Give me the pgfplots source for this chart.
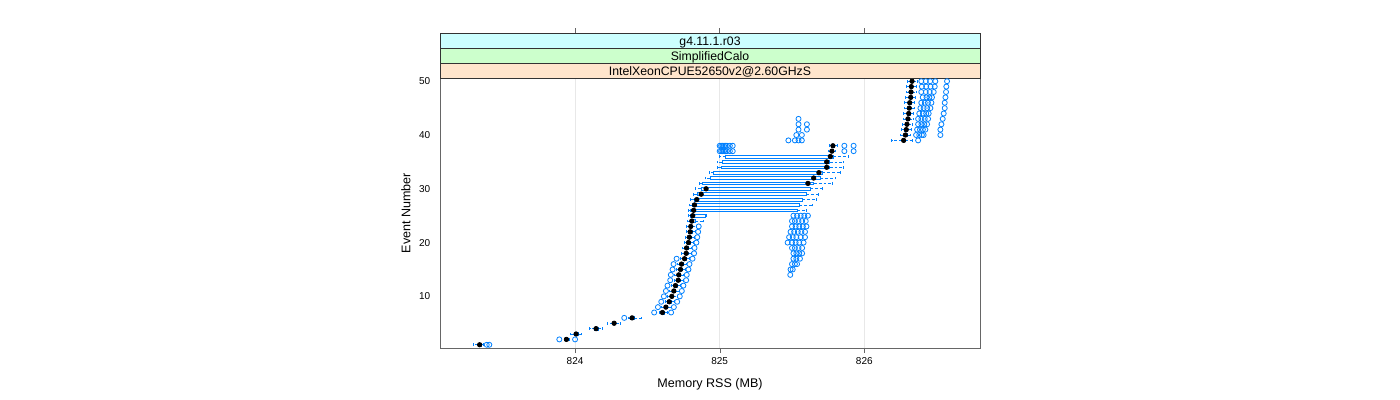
\documentclass[border=0pt]{standalone}
\usepackage{fontspec}
\setmainfont{Liberation Sans}
\usepackage{pgfplots}
\usepgfplotslibrary{statistics}
\pgfplotsset{compat=1.18}
\definecolor{lat}{HTML}{0080FF}
\definecolor{stripA}{HTML}{FFE5CC}
\definecolor{stripB}{HTML}{CCFFCC}
\definecolor{stripC}{HTML}{CCFFFF}

\pgfplotsset{
  bw/.style={lat, line width=0.5pt, mark=o, mark size=1.9pt,
    mark options={lat, solid, line width=0.6pt},
    boxplot/box extend=0.5, boxplot/whisker extend=0.5,
    boxplot/every box/.style={draw=lat, fill=none},
    boxplot/draw/median/.code={%
      \fill[black] (boxplot box cs:\pgfplotsboxplotvalue{median},0.5) circle[radius=1.7pt];},
    boxplot/draw/lower whisker/.code={%
      \draw[lat, dash pattern=on 2.2pt off 1.5pt]
        (boxplot box cs:\pgfplotsboxplotvalue{lower quartile},0.5) --
        (boxplot box cs:\pgfplotsboxplotvalue{lower whisker},0.5);
      \draw[lat] (boxplot whisker cs:\pgfplotsboxplotvalue{lower whisker},0) --
        (boxplot whisker cs:\pgfplotsboxplotvalue{lower whisker},1);},
    boxplot/draw/upper whisker/.code={%
      \draw[lat, dash pattern=on 2.2pt off 1.5pt]
        (boxplot box cs:\pgfplotsboxplotvalue{upper quartile},0.5) --
        (boxplot box cs:\pgfplotsboxplotvalue{upper whisker},0.5);
      \draw[lat] (boxplot whisker cs:\pgfplotsboxplotvalue{upper whisker},0) --
        (boxplot whisker cs:\pgfplotsboxplotvalue{upper whisker},1);},
  },
}

% \bx{event}{lower whisker}{lower quartile}{median}{upper quartile}{upper whisker}{outliers}
\newcommand{\bx}[7]{%
  \addplot[bw, boxplot prepared={draw position=#1, lower whisker=#2,
    lower quartile=#3, median=#4, upper quartile=#5, upper whisker=#6}]
    coordinates {#7};}

\begin{document}
\begin{tikzpicture}
\useasboundingbox (0,0) rectangle (1050pt,300pt);
\begin{axis}[
  at={(330pt,39pt)}, anchor=south west,
  scale only axis, width=405pt, height=202.5pt,
  xmin=823.066, xmax=826.80, ymin=0.4, ymax=50.6,
  xtick={824,825,826}, ytick={10,20,30,40,50},
  xtick pos=bottom, ytick pos=left,
  tick align=outside, x tick style={black!60}, major tick length=3.75pt,
  y tick style={draw=none},
  xmajorgrids, major grid style={black!9},
  axis line style={black!60},
  /pgf/number format/assume math mode=true,
  /pgf/number format/1000 sep={},
  tick label style={font=\fontsize{7.5}{9}\selectfont},
  label style={font=\fontsize{9.4}{11}\selectfont},
  xlabel={Memory RSS (MB)}, ylabel={Event Number},
  xlabel style={at={(axis description cs:0.5,-0.136)}, anchor=center},
  ylabel style={at={(axis description cs:-0.063,0.5)}, anchor=center},
  clip=false,
]
\bx{1}{823.296}{823.33}{823.34}{823.355}{823.365}{(0,823.389) (0,823.407)}
\bx{2}{823.925}{823.93}{823.94}{823.95}{823.96}{(0,823.891) (0,824.0)}
\bx{3}{823.965}{823.995}{824.007}{824.02}{824.046}{}
\bx{4}{824.10}{824.135}{824.145}{824.16}{824.19}{}
\bx{5}{824.22}{824.26}{824.27}{824.28}{824.31}{}
\bx{6}{824.37}{824.385}{824.394}{824.41}{824.455}{(0,824.34)}
\bx{7}{824.58}{824.595}{824.604}{824.615}{824.64}{(0,824.547) (0,824.664)}
\bx{8}{824.598}{824.618}{824.628}{824.640}{824.663}{(0,824.573) (0,824.683)}
\bx{9}{824.621}{824.641}{824.651}{824.663}{824.686}{(0,824.596) (0,824.706)}
\bx{10}{824.639}{824.659}{824.669}{824.681}{824.704}{(0,824.614) (0,824.724)}
\bx{11}{824.653}{824.673}{824.683}{824.695}{824.718}{(0,824.628) (0,824.738)}
\bx{12}{824.664}{824.684}{824.694}{824.706}{824.729}{(0,824.639) (0,824.749)}
\bx{13}{824.683}{824.703}{824.713}{824.725}{824.748}{(0,824.658) (0,824.768)}
\bx{14}{824.687}{824.707}{824.717}{824.729}{824.752}{(0,824.662) (0,824.772) (0,825.488)}
\bx{15}{824.699}{824.719}{824.729}{824.741}{824.764}{(0,824.674) (0,824.784) (0,825.49) (0,825.505)}
\bx{16}{824.706}{824.726}{824.736}{824.748}{824.771}{(0,824.681) (0,824.791) (0,825.50) (0,825.52) (0,825.535)}
\bx{17}{824.727}{824.747}{824.757}{824.769}{824.792}{(0,824.702) (0,824.812) (0,825.51) (0,825.53) (0,825.555)}
\bx{18}{824.738}{824.758}{824.768}{824.780}{824.803}{(0,824.823) (0,825.51) (0,825.53) (0,825.55) (0,825.57)}
\bx{19}{824.741}{824.761}{824.771}{824.783}{824.806}{(0,824.826) (0,825.50) (0,825.52) (0,825.545) (0,825.57)}
\bx{20}{824.754}{824.774}{824.784}{824.796}{824.819}{(0,824.839) (0,825.47) (0,825.50) (0,825.525) (0,825.55) (0,825.58)}
\bx{21}{824.76}{824.78}{824.79}{824.802}{824.825}{(0,824.845) (0,825.48) (0,825.505) (0,825.53) (0,825.56) (0,825.59)}
\bx{22}{824.766}{824.786}{824.796}{824.808}{824.831}{(0,824.851) (0,825.49) (0,825.515) (0,825.54) (0,825.565) (0,825.59)}
\bx{23}{824.77}{824.79}{824.80}{824.812}{824.835}{(0,824.855) (0,825.50) (0,825.525) (0,825.55) (0,825.575) (0,825.60)}
\bx{24}{824.777}{824.797}{824.807}{824.83}{824.886}{(0,825.50) (0,825.52) (0,825.545) (0,825.57) (0,825.595)}
\bx{25}{824.784}{824.80}{824.814}{824.90}{824.905}{(0,825.51) (0,825.535) (0,825.56) (0,825.585) (0,825.61)}
\bx{26}{824.78}{824.80}{824.82}{825.534}{825.60}{}
\bx{27}{824.79}{824.81}{824.826}{825.55}{825.64}{}
\bx{28}{824.80}{824.825}{824.842}{825.57}{825.67}{}
\bx{29}{824.82}{824.845}{824.872}{825.60}{825.68}{}
\bx{30}{824.83}{824.87}{824.906}{825.626}{825.707}{}
\bx{31}{824.86}{824.877}{825.61}{825.65}{825.776}{}
\bx{32}{824.90}{824.934}{825.65}{825.695}{825.80}{}
\bx{33}{824.93}{824.957}{825.686}{825.71}{825.834}{}
\bx{34}{824.985}{825.01}{825.74}{825.76}{825.857}{}
\bx{35}{824.985}{825.015}{825.74}{825.76}{825.857}{}
\bx{36}{825.0}{825.04}{825.765}{825.785}{825.89}{}
\bx{37}{825.75}{825.765}{825.776}{825.785}{825.80}{(0,825.00) (0,825.01) (0,825.02) (0,825.03) (0,825.04) (0,825.05) (0,825.07) (0,825.09) (0,825.862) (0,825.926)}
\bx{38}{825.755}{825.772}{825.783}{825.79}{825.81}{(0,825.00) (0,825.01) (0,825.02) (0,825.03) (0,825.04) (0,825.05) (0,825.07) (0,825.09) (0,825.862) (0,825.926)}
\bx{39}{826.19}{826.26}{826.272}{826.28}{826.33}{(0,825.475) (0,825.52) (0,825.545) (0,825.568) (0,826.372)}
\bx{40}{826.25}{826.274}{826.284}{826.294}{826.32}{(0,825.53) (0,825.568) (0,826.358) (0,826.38) (0,826.398) (0,826.41) (0,826.526)}
\bx{41}{826.255}{826.28}{826.29}{826.30}{826.325}{(0,825.545) (0,825.603) (0,826.365) (0,826.385) (0,826.405) (0,826.422) (0,826.526)}
\bx{42}{826.26}{826.285}{826.295}{826.305}{826.33}{(0,825.545) (0,825.603) (0,826.372) (0,826.395) (0,826.415) (0,826.434) (0,826.533)}
\bx{43}{826.267}{826.292}{826.302}{826.312}{826.337}{(0,825.545) (0,826.372) (0,826.395) (0,826.418) (0,826.441) (0,826.542)}
\bx{44}{826.272}{826.297}{826.307}{826.317}{826.342}{(0,826.38) (0,826.405) (0,826.428) (0,826.445) (0,826.549)}
\bx{45}{826.276}{826.301}{826.311}{826.321}{826.346}{(0,826.388) (0,826.41) (0,826.435) (0,826.457) (0,826.556)}
\bx{46}{826.279}{826.304}{826.314}{826.324}{826.349}{(0,826.394) (0,826.418) (0,826.44) (0,826.464) (0,826.556)}
\bx{47}{826.286}{826.311}{826.321}{826.331}{826.356}{(0,826.404) (0,826.43) (0,826.45) (0,826.468) (0,826.561)}
\bx{48}{826.288}{826.313}{826.323}{826.333}{826.358}{(0,826.394) (0,826.425) (0,826.452) (0,826.48) (0,826.565)}
\bx{49}{826.29}{826.315}{826.325}{826.335}{826.36}{(0,826.398) (0,826.428) (0,826.458) (0,826.487) (0,826.567)}
\bx{50}{826.295}{826.32}{826.33}{826.34}{826.365}{(0,826.394) (0,826.425) (0,826.455) (0,826.491) (0,826.572)}
% strips
\draw[black!80, fill=stripA] (rel axis cs:0,1) rectangle ([yshift=11.25pt]rel axis cs:1,1);
\draw[black!80, fill=stripB] ([yshift=11.25pt]rel axis cs:0,1) rectangle ([yshift=22.5pt]rel axis cs:1,1);
\draw[black!80, fill=stripC] ([yshift=22.5pt]rel axis cs:0,1) rectangle ([yshift=33.75pt]rel axis cs:1,1);
\node[font=\fontsize{9.2}{10}\selectfont] at ([yshift=4.3pt]rel axis cs:0.5,1) {IntelXeonCPUE52650v2@2.60GHzS};
\node[font=\fontsize{9.2}{10}\selectfont] at ([yshift=15.4pt]rel axis cs:0.5,1) {SimplifiedCalo};
\node[font=\fontsize{9.2}{10}\selectfont] at ([yshift=26.6pt]rel axis cs:0.5,1) {g4.11.1.r03};
\pgfplotsinvokeforeach{824,825,826}{%
  \draw[black!60] ([yshift=33.75pt]axis cs:#1,50.6) -- ([yshift=37.5pt]axis cs:#1,50.6);}
\end{axis}
\end{tikzpicture}
\end{document}
